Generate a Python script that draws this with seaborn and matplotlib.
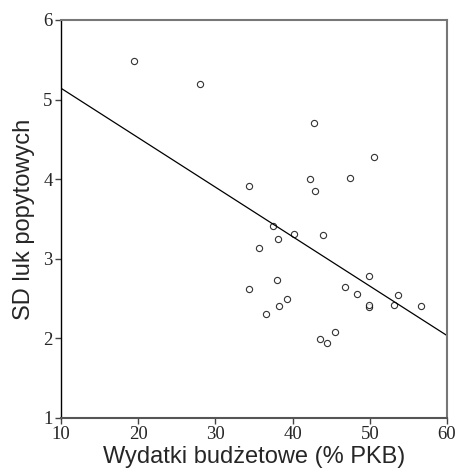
import numpy as np
import pandas as pd
import seaborn as sns
import matplotlib.pyplot as plt

# budget spending (% GDP) vs SD of output gaps
wydatki = [19.5, 28.0, 42.8, 50.5, 34.4, 42.2, 47.4, 42.9, 37.5, 40.2,
           44.0, 38.1, 35.6, 34.4, 38.0, 39.3, 38.2, 36.6, 46.8, 48.3,
           49.9, 49.9, 49.9, 53.1, 53.7, 56.6, 45.5, 43.5, 44.5]
sd_luk = [5.49, 5.20, 4.71, 4.28, 3.92, 4.00, 4.01, 3.85, 3.41, 3.31,
          3.30, 3.25, 3.14, 2.62, 2.73, 2.50, 2.41, 2.31, 2.65, 2.56,
          2.78, 2.40, 2.42, 2.42, 2.55, 2.41, 2.08, 1.99, 1.94]
x_ticks = [10, 20, 30, 40, 50, 60]
y_ticks = [1, 2, 3, 4, 5, 6]

df = pd.DataFrame({"wydatki": wydatki, "sd": sd_luk})

sns.set_style("white")
plt.rcParams['font.family'] = ['Liberation Serif', 'DejaVu Serif']

fig = plt.figure(figsize=(4.57, 4.76), dpi=100)
ax = fig.add_axes([0.1335, 0.122, 0.8445, 0.836])
ax.set_xlim(10, 60)
ax.set_ylim(1, 6)

sns.regplot(data=df, x="wydatki", y="sd", ax=ax, ci=None, truncate=False,
            scatter_kws=dict(s=20, facecolors="white", edgecolors="black", linewidths=0.8),
            line_kws=dict(color="black", lw=0.9))
ax.set_xlim(10, 60)
ax.set_ylim(1, 6)
ax.set_xticks(x_ticks)
ax.set_yticks(y_ticks)
ax.tick_params(direction="out", length=4, width=1, color="#444444",
               labelsize=13.5, bottom=True, left=True, pad=2)

for side in ["left", "bottom"]:
    ax.spines[side].set_color("black")
    ax.spines[side].set_linewidth(1)
for side in ["top", "right"]:
    ax.spines[side].set_color("#777777")
    ax.spines[side].set_linewidth(1.5)
ax.spines["bottom"].set_color("#555555")
ax.spines["bottom"].set_linewidth(1.5)

ax.set_xlabel("Wydatki budżetowe (% PKB)", family=["Liberation Sans", "DejaVu Sans"],
              fontsize=17, labelpad=2)
ax.set_ylabel("SD luk popytowych", family=["Liberation Sans", "DejaVu Sans"],
              fontsize=17, labelpad=6)

fig.savefig("out.png", dpi=100)
